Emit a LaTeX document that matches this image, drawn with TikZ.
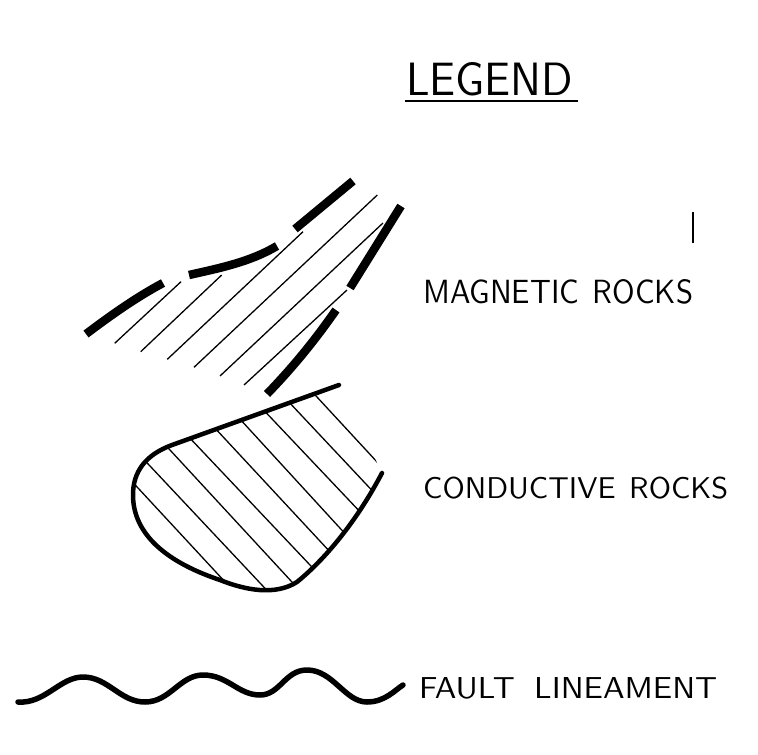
\documentclass[tikz,border=0pt]{standalone}
\usepackage{graphicx}
\begin{document}
\begin{tikzpicture}[x=1pt,y=-1pt,
  lbl/.style={anchor=north west,inner sep=0pt,font=\sffamily},
  bar/.style={line width=8.5pt,line cap=butt},
  hatch/.style={line width=1.3pt},
  outline/.style={line width=4.5pt,line cap=round,line join=round},
  wave/.style={line width=5.5pt,line cap=round}]
\useasboundingbox (0,0) rectangle (758,755);

% title
\node[lbl] (title) at (406,62) {\resizebox{167pt}{33pt}{LEGEND}};
\coordinate (ulA) at (405,101);
\coordinate (ulB) at (578,101);
\draw[line width=2.5pt] (ulA) -- (ulB);

% stray tick
\coordinate (tA) at (693,212);
\coordinate (tB) at (693,243);
\draw[line width=1.3pt] (tA) -- (tB);

% magnetic rocks: bars
\draw[bar] (86,334) .. controls (110,316) and (135,298) .. (163,283);
\draw[bar] (189,275) .. controls (220,268) and (250,262) .. (277,246);
\draw[bar] (295,229) -- (353,181);
\draw[bar] (401,206) -- (350,288);
\draw[bar] (336,310) .. controls (322,330) and (300,360) .. (267,394);
% magnetic rocks: hatch
\draw[hatch] (114.7,343.3) -- (181,281.7);
\draw[hatch] (140.7,351.7) -- (221.7,275);
\draw[hatch] (167.3,359.3) -- (303,231.7);
\draw[hatch] (194,367.3) -- (377.3,195);
\draw[hatch] (220,376) -- (383,223);
\draw[hatch] (244,385) -- (347,290);
\node[lbl] (mag) at (423,279) {\resizebox{270pt}{24pt}{MAGNETIC\hspace{0.45em}ROCKS}};

% conductive rocks
\begin{scope}
\clip (339,385) -- (172,445) .. controls (145,455) and (133,472) .. (133,495)
  .. controls (133,530) and (160,560) .. (220,580)
  .. controls (245,590) and (275,596) .. (297,582)
  .. controls (330,555) and (360,515) .. (382,473) -- cycle;
\foreach \ax/\ay/\bx/\by in {316.7/396.7/378.3/463.3, 291.7/405/370/488.3,
  266.7/413.3/356.7/508.3, 243.3/422.7/341.7/530, 218.3/431.7/326.7/548.3,
  191.7/440/310/565, 170/450/291.7/581.7, 150/466/265/588.3, 138.3/488.3/223.3/580}
  \draw[hatch,shorten <=-12pt,shorten >=-12pt] (\ax,\ay) -- (\bx,\by);
\end{scope}
\draw[outline] (339,385) -- (172,445) .. controls (145,455) and (133,472) .. (133,495)
  .. controls (133,530) and (160,560) .. (220,580)
  .. controls (245,590) and (275,596) .. (297,582)
  .. controls (330,555) and (360,515) .. (382,473);
\node[lbl] (cond) at (423,477) {\resizebox{305pt}{21.5pt}{CONDUCTIVE\hspace{0.45em}ROCKS}};

% fault lineament
\draw[wave] (18,702) .. controls (45,704) and (60,677) .. (83,677)
  .. controls (108,677) and (120,702) .. (145,702)
  .. controls (170,702) and (180,675) .. (203,675)
  .. controls (228,675) and (238,695) .. (260,695)
  .. controls (280,695) and (285,670) .. (307,670)
  .. controls (333,670) and (345,702) .. (367,702)
  .. controls (385,702) and (395,690) .. (403,685);
\node[lbl] (fault) at (419,677) {\resizebox{298pt}{21pt}{FAULT\hspace{0.6em}LINEAMENT}};
\end{tikzpicture}
\end{document}
